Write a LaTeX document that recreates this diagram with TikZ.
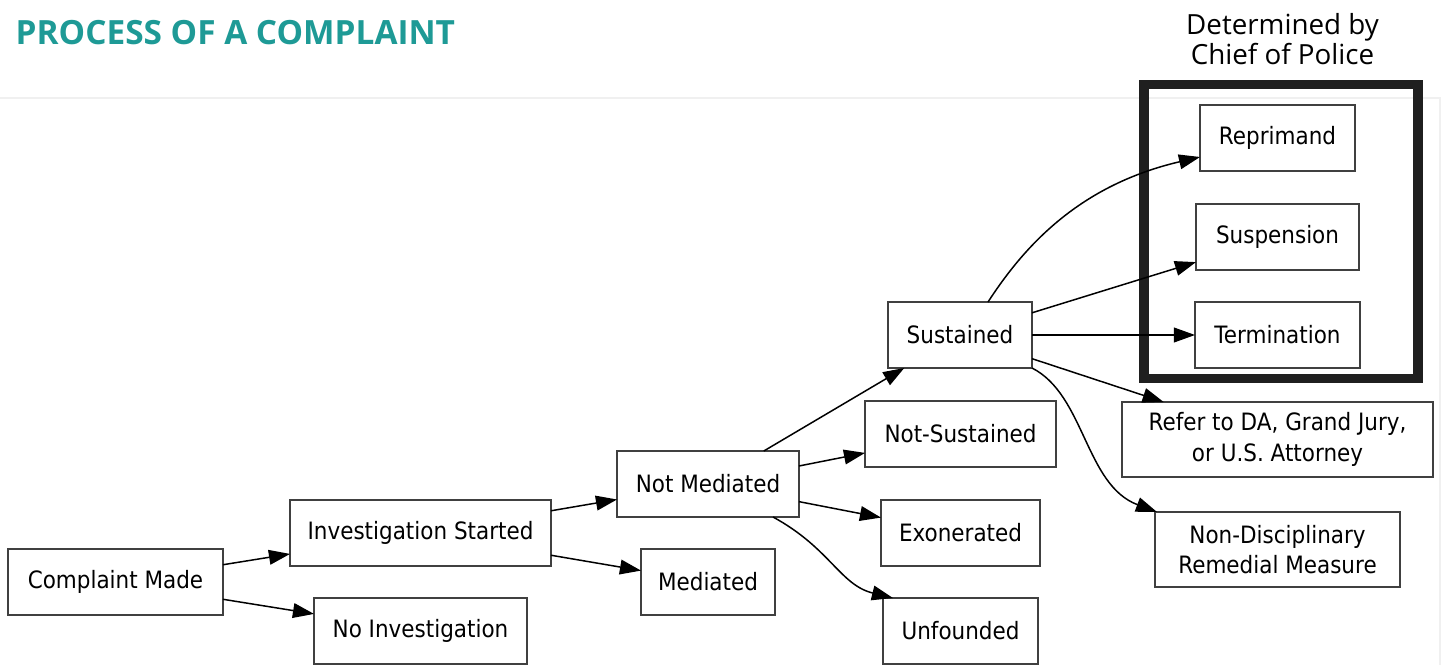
\documentclass[tikz,border=0pt]{standalone}
\usepackage{fontspec}
\setmainfont{DejaVu Sans}
\newfontfamily\boxfont[FakeStretch=0.9]{DejaVu Sans}
\newfontfamily\titlefont{Open Sans}
\usetikzlibrary{arrows.meta,calc}
\definecolor{titleteal}{RGB}{30,154,150}

\begin{document}
\begin{tikzpicture}[x=0.02cm,y=-0.02cm,line width=0.85pt,
    >={Triangle[length=12pt,width=8.4pt]},
    box/.style={draw=black!75,inner sep=0pt,outer sep=0pt,minimum height=1.32cm,
      align=center,font=\boxfont\fontsize{13.6}{17.5}\selectfont},
    tallbox/.style={box,minimum height=1.5cm}]
    \useasboundingbox (0,0) rectangle (1442,665);
    \draw[black!6,line width=0.6pt] (0,98) -- (1440,98) -- (1440,665);

    % title and the chief's frame
    \node[anchor=base west,inner sep=0pt,text=titleteal,
      font=\titlefont\bfseries\fontsize{19}{22}\selectfont] (title) at (15,45) {PROCESS OF A COMPLAINT};
    \draw[line width=5.67pt,black!88] (1144,84.5) rectangle (1418,378.5);
    \node[anchor=south,align=center,inner sep=0pt,
      font=\titlefont\fontsize{15.8}{17.6}\selectfont] (chief) at (1282.5,66) {Determined by\\Chief of Police};

    \node[box,minimum width=4.30cm] (made) at (115.5,582) {Complaint Made};
    \node[box,minimum width=5.22cm] (started) at (420.5,533) {Investigation Started};
    \node[box,minimum width=4.26cm] (noinv) at (420.5,631) {No Investigation};
    \node[box,minimum width=3.64cm] (notmed) at (708,484) {Not Mediated};
    \node[box,minimum width=2.68cm] (med) at (708,582) {Mediated};
    \node[box,minimum width=2.88cm] (sust) at (960,335) {Sustained};
    \node[box,minimum width=3.82cm] (notsust) at (960.5,434) {Not-Sustained};
    \node[box,minimum width=3.18cm] (exon) at (960.5,533) {Exonerated};
    \node[box,minimum width=3.10cm] (unf) at (960.5,631) {Unfounded};
    \node[box,minimum width=3.10cm] (repr) at (1277.5,138) {Reprimand};
    \node[box,minimum width=3.26cm] (susp) at (1277.5,237) {Suspension};
    \node[box,minimum width=3.30cm] (term) at (1277.5,335) {Termination};
    \node[tallbox,minimum width=6.22cm] (refer) at (1277.5,439.5) {Refer to DA, Grand Jury,\\or U.S. Attorney};
    \node[tallbox,minimum width=4.90cm] (nondisc) at (1277.5,549.5) {Non-Disciplinary\\Remedial Measure};

    \draw[->] (made) -- (started);
    \draw[->] (made) -- (noinv);
    \draw[->] (started) -- (notmed);
    \draw[->] (started) -- (med);
    \draw[->] (notmed) -- (sust);
    \draw[->] (notmed) -- (notsust);
    \draw[->] (notmed) -- (exon);
    \draw[->] ($(notmed.south)+(65,0)$) .. controls +(57,31) and +(-53,-13) .. ($(unf.north)+(-67.5,0)$);
    \draw[->] ($(sust.north)+(28,0)$) .. controls +(37,-57) and +(-120,28) .. ($(repr.west)+(0,19)$);
    \draw[->] (sust) -- (susp);
    \draw[->] (sust) -- (term);
    \draw[->] (sust) -- (refer);
    \draw[->] (sust.south east) .. controls +(53,27) and +(-72,-27) .. ($(nondisc.north west)+(2,0)$);
\end{tikzpicture}
\end{document}
